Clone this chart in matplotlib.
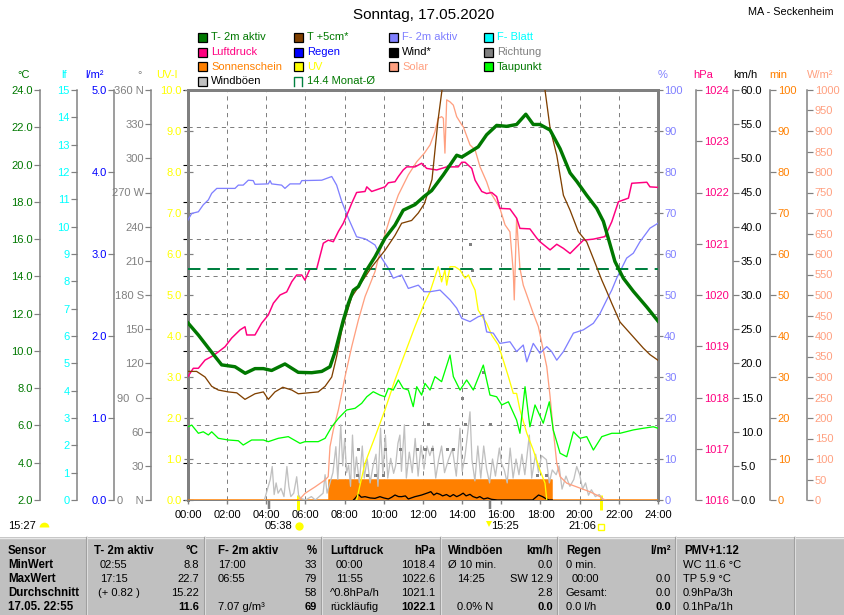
#!/usr/bin/env python3
import matplotlib
matplotlib.use('Agg')
import matplotlib.pyplot as plt
import numpy as np
from matplotlib.patches import Rectangle

plt.rcParams['font.family'] = ['Liberation Sans', 'DejaVu Sans']
plt.rcParams['font.size'] = 8
plt.rcParams['lines.scale_dashes'] = False

# ---- data, time in hours ----
t2_t = [0.0, 0.53, 1.12, 1.38, 1.72, 2.40, 2.92, 3.42, 3.85, 4.27, 4.95, 5.63, 6.32, 6.83, 7.25, 7.51, 7.71, 7.93,
        8.19, 8.44, 8.70, 9.13, 9.55, 10.06, 10.57, 10.99, 11.59, 12.07, 12.44, 13.04, 13.72, 13.98, 14.82, 15.25,
        15.76, 16.27, 16.78, 17.25, 17.63, 17.97, 18.49, 19.00, 19.51, 19.85, 20.36, 20.87, 21.21, 21.46, 21.80,
        22.23, 22.74, 23.43, 24.0]
t2_v = [11.5, 10.85, 10.05, 9.7, 9.25, 9.15, 8.8, 9.05, 9.05, 8.95, 9.3, 8.85, 8.83, 8.9, 9.15, 9.95, 10.75, 11.65,
        12.55, 13.25, 13.45, 14.35, 15.05, 16.05, 16.75, 17.55, 17.85, 18.3, 18.6, 19.45, 20.5, 20.4, 20.95, 21.6,
        22.1, 22.05, 22.15, 22.7, 22.15, 22.15, 21.85, 20.85, 19.55, 19.1, 18.35, 17.65, 16.95, 16.05, 14.8,
        13.9, 13.2, 12.35, 11.6]

t5_t = [0.0, 0.44, 0.87, 1.21, 1.55, 2.06, 2.49, 2.91, 3.42, 3.85, 4.10, 4.44, 4.84, 5.30, 5.63, 6.14, 6.65, 7.00,
        7.34, 7.59, 7.85, 8.10, 8.36, 8.87, 9.38, 10.06, 10.57, 10.91, 11.42, 11.76, 12.07, 12.46, 12.77, 12.97,
        13.5, 15.0, 16.5, 17.5, 18.23, 18.49, 18.83, 19.17, 19.51, 19.93, 20.36, 20.70, 21.13, 21.38, 21.64, 22.06,
        22.57, 23.25, 23.59, 24.0]
t5_v = [8.9, 8.9, 8.6, 8.1, 7.9, 7.8, 7.75, 7.4, 7.7, 7.8, 7.4, 7.8, 8.05, 7.9, 7.7, 7.75, 7.8, 8.1,
        8.6, 9.7, 11.1, 12.0, 12.9, 13.7, 14.5, 15.4, 16.2, 16.85, 17.0, 17.4, 17.9, 19.2, 22.4, 24.0,
        27.0, 30.0, 29.0, 26.5, 24.0, 21.95, 20.5, 18.35, 17.55, 16.4, 15.85, 14.95, 13.8, 13.2, 12.55, 11.55,
        10.95, 10.15, 9.8, 9.5]

f_t = [0.0, 0.19, 0.53, 0.78, 1.04, 1.21, 1.47, 2.40, 2.57, 2.82, 3.08, 3.33, 3.42, 4.10, 4.19, 4.27, 4.78, 4.95,
       5.21, 5.72, 5.81, 6.83, 7.34, 7.59, 7.85, 8.19, 8.61, 9.04, 9.29, 9.55, 9.89, 10.23, 10.48, 10.91, 11.25,
       11.76, 12.07, 12.36, 12.87, 13.38, 13.72, 13.98, 14.40, 14.82, 15.08, 15.25, 15.59, 15.93, 16.44, 16.78,
       17.12, 17.30, 17.63, 17.97, 18.32, 18.57, 18.83, 19.17, 19.68, 20.19, 20.70, 21.04, 21.38, 21.64, 21.89,
       22.40, 22.74, 23.08, 23.59, 24.0]
f_v = [68.3, 69.9, 70.3, 72.0, 73.2, 74.8, 76.0, 76.0, 76.8, 76.8, 78.0, 77.9, 77.0, 77.1, 77.9, 77.1, 76.8, 76.0,
       77.1, 77.1, 77.9, 78.0, 78.9, 76.8, 72.8, 68.7, 64.2, 63.7, 63.0, 62.2, 59.0, 56.5, 54.1, 54.9, 51.6,
       52.4, 50.8, 50.8, 51.2, 48.8, 46.8, 44.3, 43.5, 44.7, 45.1, 41.0, 40.7, 38.2, 38.6, 36.2,
       37.8, 33.7, 38.2, 35.8, 37.4, 36.2, 34.1, 36.2, 40.7, 41.5, 43.1, 45.5, 48.8, 51.2, 54.1,
       59.0, 60.2, 63.0, 66.3, 67.5]

p_t = [0.0, 0.27, 0.53, 0.87, 1.21, 1.55, 1.89, 2.23, 2.66, 2.91, 3.00, 3.42, 3.76, 4.10, 4.36, 4.70, 5.04, 5.30,
       5.55, 5.81, 5.97, 6.23, 6.57, 6.91, 7.16, 7.42, 7.68, 7.93, 8.19, 8.36, 8.61, 9.04, 9.13, 9.38, 10.06,
       10.23, 10.57, 10.74, 10.99, 11.17, 11.59, 11.93, 12.19, 12.70, 13.21, 13.80, 13.98, 14.15, 14.49, 14.66,
       15.00, 15.25, 15.51, 15.76, 15.93, 16.44, 16.78, 16.95, 17.46, 17.81, 17.97, 18.49, 18.83, 19.17, 19.51,
       19.85, 20.19, 20.70, 21.29, 21.64, 21.98, 22.49, 22.66, 23.43, 23.59, 24.0]
p_v = [1018.41, 1018.57, 1018.57, 1018.73, 1018.80, 1018.89, 1018.99, 1019.16, 1019.32, 1019.38, 1019.22,
       1019.22, 1019.45, 1019.61, 1019.84, 1020.00, 1020.06, 1020.26, 1020.39, 1020.39, 1020.29, 1020.51,
       1020.51, 1021.01, 1021.07, 1021.04, 1021.24, 1021.40, 1021.63, 1021.79, 1022.00, 1022.02, 1022.11,
       1022.02, 1022.11, 1022.19, 1022.21, 1022.31, 1022.44, 1022.50, 1022.50, 1022.57, 1022.47, 1022.44,
       1022.50, 1022.50, 1022.59, 1022.59, 1022.47, 1022.24, 1022.02, 1021.98, 1022.00, 1021.92, 1021.69,
       1021.68, 1021.50, 1021.30, 1021.29, 1021.11, 1021.04, 1020.88, 1020.99, 1020.91, 1020.81, 1020.94,
       1021.07, 1021.09, 1021.14, 1021.43, 1021.82, 1021.89, 1022.18, 1022.20, 1022.11, 1022.10]

td_t = [0.0, 0.19, 0.53, 0.78, 1.04, 1.21, 1.55, 2.06, 2.57, 2.82, 3.25, 3.85, 4.10, 4.61, 5.12, 5.72, 5.97, 6.65,
        7.00, 7.34, 7.68, 8.10, 8.53, 8.87, 9.13, 9.46, 9.80, 10.06, 10.23, 10.48, 10.74, 10.99, 11.25, 11.50,
        11.68, 11.93, 12.10, 12.36, 12.61, 12.95, 13.38, 13.55, 13.89, 14.23, 14.57, 15.08, 15.42, 15.76, 16.02,
        16.36, 16.78, 16.95, 17.21, 17.46, 17.72, 18.14, 18.45, 18.65, 19.00, 19.34, 19.68, 20.02, 20.36, 20.70,
        21.13, 21.64, 22.06, 22.74, 23.25, 23.76, 24.0]
td_v = [5.93, 6.02, 5.58, 5.66, 5.49, 5.66, 5.31, 5.22, 5.18, 4.95, 5.22, 5.22, 5.13, 5.31, 5.40, 5.04, 5.13, 5.13,
        5.31, 5.93, 6.38, 6.83, 6.92, 7.19, 7.54, 7.81, 7.63, 7.54, 7.99, 7.90, 8.44, 7.99, 7.90, 7.01,
        8.08, 7.63, 8.26, 7.90, 8.62, 8.35, 9.78, 8.62, 7.90, 8.44, 7.90, 9.24, 7.63, 7.54, 7.10,
        7.27, 6.29, 5.58, 8.08, 5.93, 7.10, 6.12, 7.27, 5.76, 4.51, 4.32, 5.66, 5.31, 5.40, 4.68,
        5.40, 5.58, 5.58, 5.76, 5.85, 5.93, 5.85]

sol_t = [5.67, 5.97, 6.49, 7.00, 7.16, 7.25, 7.42, 7.68, 8.02, 8.36, 8.70, 9.04, 9.55, 9.89, 10.31, 10.74, 11.25,
         11.68, 12.07, 12.36, 12.61, 12.78, 12.95, 13.04, 13.12, 13.21, 13.38, 13.55, 13.72, 13.98, 14.06, 14.40,
         14.66, 14.91, 15.25, 15.42, 15.68, 15.93, 16.19, 16.44, 16.61, 16.66, 16.78, 16.95, 17.12, 17.30, 17.63,
         17.89, 18.14, 18.32, 18.49, 18.65, 18.83, 19.00, 19.34, 20.02, 20.53, 21.04, 21.21, 21.34]
sol_v = [0, 16, 32, 49, 57, 130, 171, 220, 301, 374, 439, 496, 557, 622, 687, 744, 793,
         825, 846, 866, 898, 931, 935, 931, 846, 976, 971, 963, 935, 915, 910, 866,
         854, 813, 776, 752, 732, 711, 671, 654, 557, 488, 687, 565, 524, 500, 455,
         423, 366, 325, 252, 171, 90, 57, 41, 29, 20, 8, 2, 0]

uv_t = [8.61, 9.04, 9.55, 10.06, 10.57, 11.08, 11.59, 12.07, 12.36, 12.78, 12.95, 13.12, 13.21, 13.38, 13.63, 13.89,
        14.15, 14.32, 14.49, 14.66, 14.82, 15.25, 15.51, 15.85, 16.10, 16.36, 16.61, 16.78, 16.95, 17.30, 17.63,
        17.97, 18.23, 18.32]
uv_v = [0, 0.90, 1.54, 2.20, 2.93, 3.58, 4.23, 4.80, 5.08, 5.69, 5.32, 5.61, 5.24, 5.69, 5.69, 5.61,
        5.41, 5.49, 5.29, 5.12, 4.63, 4.31, 4.02, 3.78, 3.41, 3.01, 2.60, 2.60, 2.20, 1.63, 1.22,
        0.73, 0.41, 0]

sun_t = [0.0, 7.2, 7.2, 18.57, 18.57, 24.0]
sun_v = [0, 0, 5, 5, 0, 0]

gust_t = [3.90, 4.05, 4.20, 4.30, 4.40, 4.50, 4.60, 4.75, 4.90, 5.05, 5.15, 5.25, 5.40, 5.55, 5.65, 5.80, 6.00,
          6.30, 6.50, 6.90, 7.00, 7.10, 7.25, 7.40, 7.55, 7.65, 7.80, 7.90, 8.00, 8.10, 8.20, 8.30, 8.40, 8.50,
          8.60, 8.75, 8.90, 9.00, 9.15, 9.30, 9.45, 9.60, 9.70, 9.83, 9.95, 10.08, 10.20, 10.35, 10.50, 10.60,
          10.72, 10.82, 10.90, 11.05, 11.15, 11.30, 11.45, 11.60, 11.75, 11.90, 12.05, 12.20, 12.35, 12.50,
          12.65, 12.80, 12.95, 13.10, 13.30, 13.50, 13.70, 13.89, 14.00, 14.15, 14.40, 14.50, 14.65, 14.80,
          14.95, 15.10, 15.25, 15.40, 15.55, 15.70, 15.90, 16.00, 16.15, 16.30, 16.45, 16.60, 16.75, 16.90,
          17.05, 17.20, 17.43, 17.55, 17.75, 17.90, 18.05, 18.30, 18.45, 18.60, 18.80, 18.95, 19.10, 19.30,
          19.50, 19.70, 19.85, 20.00, 20.15, 20.30, 20.45, 20.60, 20.80, 21.00, 21.20]
gust_v = [0.0, 1.5, 3.0, 4.9, 0.8, 2.5, 1.0, 1.7, 0.5, 4.9, 2.0, 0.5, 1.0, 3.4, 0.6, 0.2, 0.0,
          0.5, 0.0, 1.0, 3.7, 1.0, 2.5, 4.0, 7.8, 3.0, 11.0, 5.0, 9.0, 4.0, 5.1, 2.0, 9.5, 3.2,
          6.3, 2.5, 7.9, 3.2, 6.0, 2.5, 5.0, 6.7, 2.0, 10.5, 3.9, 9.5, 3.2, 6.1, 3.9, 5.0,
          8.3, 9.5, 4.2, 11.0, 3.2, 7.0, 4.0, 9.0, 3.5, 8.0, 4.5, 7.9, 6.5, 7.9,
          3.2, 5.9, 7.9, 4.0, 5.9, 7.5, 3.5, 10.5, 4.2, 6.5, 12.9, 5.9, 2.8, 7.9,
          3.2, 7.9, 4.5, 2.5, 6.0, 3.5, 7.6, 5.4, 4.4, 2.5, 7.6, 3.2, 6.0, 3.7,
          6.7, 3.7, 9.5, 3.2, 6.7, 4.0, 6.5, 5.9, 2.5, 4.4, 3.7, 5.0, 1.6, 3.5,
          2.0, 3.0, 4.9, 3.7, 1.6, 2.5, 0.7, 1.5, 0.5, 0.8, 0.0]

wind_t = [8.45, 8.53, 8.70, 8.85, 9.04, 9.30, 9.55, 9.80, 10.00, 10.23, 10.40, 10.57, 10.75, 10.91, 11.10, 11.25,
          11.40, 11.59, 11.75, 11.93, 12.10, 12.27, 12.40, 12.55, 12.70, 12.87, 13.00, 13.20, 13.38, 13.55, 13.72,
          13.90, 14.05, 14.20, 14.40, 14.55, 14.75, 14.90, 15.10, 15.30, 15.50, 15.80, 17.60, 17.72, 17.90, 18.10,
          18.30, 18.45, 18.60]
wind_v = [0.0, 0.24, 0.83, 0.4, 0.49, 0.3, 0.24, 0.49, 0.3, 0.15, 0.4, 0.73, 0.5, 0.49, 0.6, 0.15,
          0.3, 0.49, 0.6, 0.73, 0.9, 1.07, 1.22, 0.73, 1.0, 0.83, 0.6, 0.8, 0.49, 0.8, 0.49,
          0.73, 1.0, 0.6, 0.83, 0.5, 0.3, 0.5, 0.15, 0.3, 0.1, 0.0, 0.0, 0.3, 0.73, 0.5,
          0.15, 0.0, 0.0]

dir_t = [8.61, 8.70, 9.13, 9.55, 9.97, 10.06, 10.83, 11.68, 12.10, 12.27, 12.44, 13.21, 13.55, 13.98, 14.15,
         14.40, 14.49, 15.08, 15.42, 17.81, 18.30]
dir_v = [22, 45, 22, 22, 22, 45, 45, 45, 45, 67, 45, 45, 45, 90, 67, 225, 202, 112, 67, 22, 22]

month_mean = 14.4
sun_rise, sun_set = 5.633, 21.1
moon_rise, moon_set = 4.15, 15.417

deg_labels = ['0    N', '30', '60', '90  O', '120', '150', '180 S', '210', '240', '270 W', '300', '330', '360 N']

tab_rows = ['Sensor', 'MinWert', 'MaxWert', 'Durchschnitt', '17.05. 22:55']
tab_T = (['T- 2m aktiv', '02:55', '17:15', '(+ 0.82 )', ''], ['°C', '8.8', '22.7', '15.22', '11.6'])
tab_F = (['F- 2m aktiv', '17:00', '06:55', '', '7.07 g/m³'], ['%', '33', '79', '58', '69'])
tab_P = (['Luftdruck', '00:00', '11:55', '^0.8hPa/h', 'rückläufig'], ['hPa', '1018.4', '1022.6', '1021.1', '1022.1'])
tab_W = (['Windböen', 'Ø 10 min.', '14:25', '', '0.0% N'], ['km/h', '0.0', 'SW 12.9', '2.8', '0.0'])
tab_R = (['Regen', '0 min.', '00:00', 'Gesamt:', '0.0 l/h'], ['l/m²', '', '0.0', '0.0', '0.0'])
tab_M = (['PMV+1:12', 'WC 11.6 °C', 'TP 5.9 °C', '0.9hPa/3h', '0.1hPa/1h'], ['', '', '', '', ''])

# colours
C_T2 = '#007800'
C_T5 = '#804000'
C_F = '#8080ff'
C_BL = '#00ffff'
C_P = '#ff0080'
C_RAIN = '#0000ff'
C_DIR = '#808080'
C_SUN = '#ff8000'
C_UV = '#ffff00'
C_SOL = '#ffa080'
C_TD = '#00ff00'
C_GUST = '#c0c0c0'
GRAY = '#808080'

W, H = 845, 615
X0, X1, YT, YB = 188, 658, 90, 500
PT = 0.72  # points per pixel

fig = plt.figure(figsize=(W / 100, H / 100), dpi=100)
ax = fig.add_axes([X0 / W, 1 - YB / H, (X1 - X0) / W, (YB - YT) / H])
ax.set_xlim(0, 24)
ax.set_ylim(2, 24)
ax.set_xticks(range(0, 25, 2))
ax.set_xticklabels(['%02d:00' % h for h in range(0, 25, 2)])
ax.set_yticks(np.arange(2, 25, 2))
ax.tick_params(axis='y', left=False, right=False, labelleft=False, labelright=False)
ax.tick_params(axis='x', direction='out', length=4 * PT, width=1, color=GRAY, pad=4, labelsize=8)
ax.grid(True, color=GRAY, linewidth=1 * PT, linestyle=(0, (3, 3)))
for s in ['left', 'right', 'top']:
    ax.spines[s].set_linewidth(3 * PT)
    ax.spines[s].set_color(GRAY)
ax.spines['bottom'].set_linewidth(1 * PT)
ax.spines['bottom'].set_color(GRAY)

# marks under the time axis
xt = ax.get_xaxis_transform()
ax.vlines([sun_rise, sun_set], -0.025, 0.012, transform=xt, colors=C_UV, lw=3 * PT, clip_on=False)
ax.vlines([moon_rise, moon_set], -0.022, 0.0, transform=xt, colors=GRAY, lw=2.5 * PT, clip_on=False)


def scale(side, off, lo, hi, step, color, fmt='%.1f', labels=None, tick='out', tlen=6):
    a = ax.twinx()
    a.set_ylim(lo, hi)
    for s in a.spines.values():
        s.set_visible(False)
    a.yaxis.set_ticks_position(side)
    sp = a.spines[side]
    sp.set_position(('outward', off * PT))
    sp.set_visible(off > 0)
    sp.set_color(GRAY)
    sp.set_linewidth(1.5 * PT)
    ticks = np.arange(lo, hi + step / 2, step)
    a.set_yticks(ticks)
    a.set_yticklabels(labels if labels else [fmt % v for v in ticks])
    a.tick_params(axis='y', direction=tick, length=tlen * PT, width=1.2 * PT, color=GRAY,
                  labelcolor=color, pad=1.2, labelsize=8)
    return a


ax_min = scale('right', 112, 0, 100, 10, C_SUN, fmt='%d')
ax_kmh = scale('right', 75, 0, 60, 5, 'black')
ax_deg = scale('left', 36.5, 0, 360, 30, GRAY, labels=deg_labels)
ax_wm2 = scale('right', 149, 0, 1000, 50, C_SOL, fmt='%d')
ax_uv = scale('left', 0, 0, 10, 1, C_UV, tick='inout', tlen=9)
ax_pct = scale('right', 0, 0, 100, 10, C_F, fmt='%d', tick='inout', tlen=9)
ax_hpa = scale('right', 38, 1016, 1024, 1, C_P, fmt='%d')
ax_lf = scale('left', 110.5, 0, 15, 1, C_BL, fmt='%d')
ax_lm2 = scale('left', 73.5, 0, 5, 1, C_RAIN)
ax_c = scale('left', 147.5, 2, 24, 2, C_T2)

ax_min.fill_between(sun_t, 0, sun_v, color=C_SUN, lw=0)
ax_min.plot(sun_t, sun_v, color=C_SUN, lw=1.5 * PT)
ax_kmh.plot(gust_t, gust_v, color=C_GUST, lw=1.3 * PT)
ax_kmh.plot(wind_t, wind_v, color='black', lw=1.3 * PT)
ax_deg.plot(dir_t, dir_v, 's', color=C_DIR, ms=3 * PT, mew=0)
ax_wm2.plot(sol_t, sol_v, color=C_SOL, lw=1.3 * PT)
ax_uv.plot(uv_t, uv_v, color=C_UV, lw=1.3 * PT)
ax_pct.plot(f_t, f_v, color=C_F, lw=1.3 * PT)
ax_hpa.plot(p_t, p_v, color=C_P, lw=1.5 * PT)
ax_c.axhline(month_mean, color='#008040', lw=2 * PT, linestyle=(0, (9, 5)))
ax_c.plot(td_t, td_v, color=C_TD, lw=1.3 * PT)
ax_c.plot(t5_t, t5_v, color=C_T5, lw=1.3 * PT)
ax_c.plot(t2_t, t2_v, color=C_T2, lw=3.4 * PT)

# ---- overlay in pixel coordinates: title, legend, units, table ----
ov = fig.add_axes([0, 0, 1, 1])
ov.set_xlim(0, W)
ov.set_ylim(H, 0)
ov.axis('off')

ov.text(424, 15, 'Sonntag, 17.05.2020', ha='center', va='center', fontsize=11)
ov.text(791, 12, 'MA - Seckenheim', ha='center', va='center', fontsize=7.8)

leg = [('T- 2m aktiv', C_T2, C_T2), ('T +5cm*', C_T5, C_T2), ('F- 2m aktiv', C_F, C_F), ('F- Blatt', C_BL, C_BL),
       ('Luftdruck', C_P, C_P), ('Regen', C_RAIN, C_RAIN), ('Wind*', 'black', 'black'), ('Richtung', C_DIR, C_DIR),
       ('Sonnenschein', C_SUN, C_SUN), ('UV', C_UV, C_UV), ('Solar', C_SOL, C_SOL), ('Taupunkt', C_TD, C_T2),
       ('Windböen', C_GUST, 'black')]
cols = [198, 294, 389, 484]
for i, (name, fc, tc) in enumerate(leg):
    x = cols[i % 4]
    y = 37.5 + 14.5 * (i // 4)
    ov.add_patch(Rectangle((x, y - 4.5), 9, 9, facecolor=fc, edgecolor='black', lw=0.9))
    ov.text(x + 13, y, name, color=tc, va='center', fontsize=8)
x, y = cols[1], 37.5 + 14.5 * 3
ov.plot([x, x, x + 8, x + 8], [y + 4.5, y - 4.5, y - 4.5, y + 4.5], color='#008040', lw=1)
ov.text(x + 13, y, '%.1f Monat-Ø' % month_mean, color=C_T2, va='center', fontsize=8)

units = [('°C', 24, C_T2), ('lf', 64, C_BL), ('l/m²', 95, C_RAIN), ('°', 140, C_DIR), ('UV-I', 167, C_UV),
         ('%', 663, C_F), ('hPa', 703, C_P), ('km/h', 745, 'black'), ('min', 778, C_SUN), ('W/m²', 820, C_SOL)]
for name, x, c in units:
    ov.text(x, 75, name, color=c, ha='center', va='center', fontsize=8)

# sun / moon times
ov.text(22, 526, '15:27', ha='center', va='center')
ov.plot(44, 527, marker='o', fillstyle='top', color=C_UV, ms=7, mew=0)
ov.text(279, 526, '05:38', ha='center', va='center')
ov.plot(299, 526, marker='o', color=C_UV, ms=6, mew=0)
ov.text(505, 526, '15:25', ha='center', va='center')
ov.plot(489, 524, marker='v', color=C_UV, ms=5, mew=0)
ov.text(582, 526, '21:06', ha='center', va='center')
ov.plot(601, 527, marker='s', color=C_UV, ms=5, mfc='none', mew=1)

# table
ov.add_patch(Rectangle((0, 537), W, H - 537, facecolor='#c0c0c0', edgecolor='none'))
ov.plot([0, W], [537.5, 537.5], color='#e8e8e8', lw=1)
for x in [87, 205, 322, 441, 558, 676, 795]:
    ov.plot([x, x], [537, H], color='#e8e8e8', lw=1.2)
    ov.plot([x - 1.2, x - 1.2], [537, H], color='#a0a0a0', lw=0.8)

rows_y = [551, 565, 579, 593, 606.5]
for j, r in enumerate(tab_rows):
    ov.text(8, rows_y[j], r, va='center', fontsize=8.3, fontweight='bold')

tab_cols = [(tab_T, [94, 100, 100, 98, 100], 199), (tab_F, [218] * 5, 317),
            (tab_P, [330, 336, 336, 330, 330], 435), (tab_W, [448, 448, 457, 457, 457], 553),
            (tab_R, [566, 566, 572, 566, 566], 671), (tab_M, [684, 683, 683, 683, 683], 790)]
for (lefts, rights), lx, rx in tab_cols:
    for j in range(5):
        bold_l = 'bold' if j == 0 else 'normal'
        bold_r = 'bold' if j in (0, 4) else 'normal'
        ov.text(lx[j], rows_y[j], lefts[j], va='center', fontsize=8.3 if j == 0 else 8, fontweight=bold_l)
        ov.text(rx, rows_y[j], rights[j], va='center', ha='right', fontsize=8.3 if j == 0 else 8,
                fontweight=bold_r)

fig.savefig('out.png', dpi=100)
